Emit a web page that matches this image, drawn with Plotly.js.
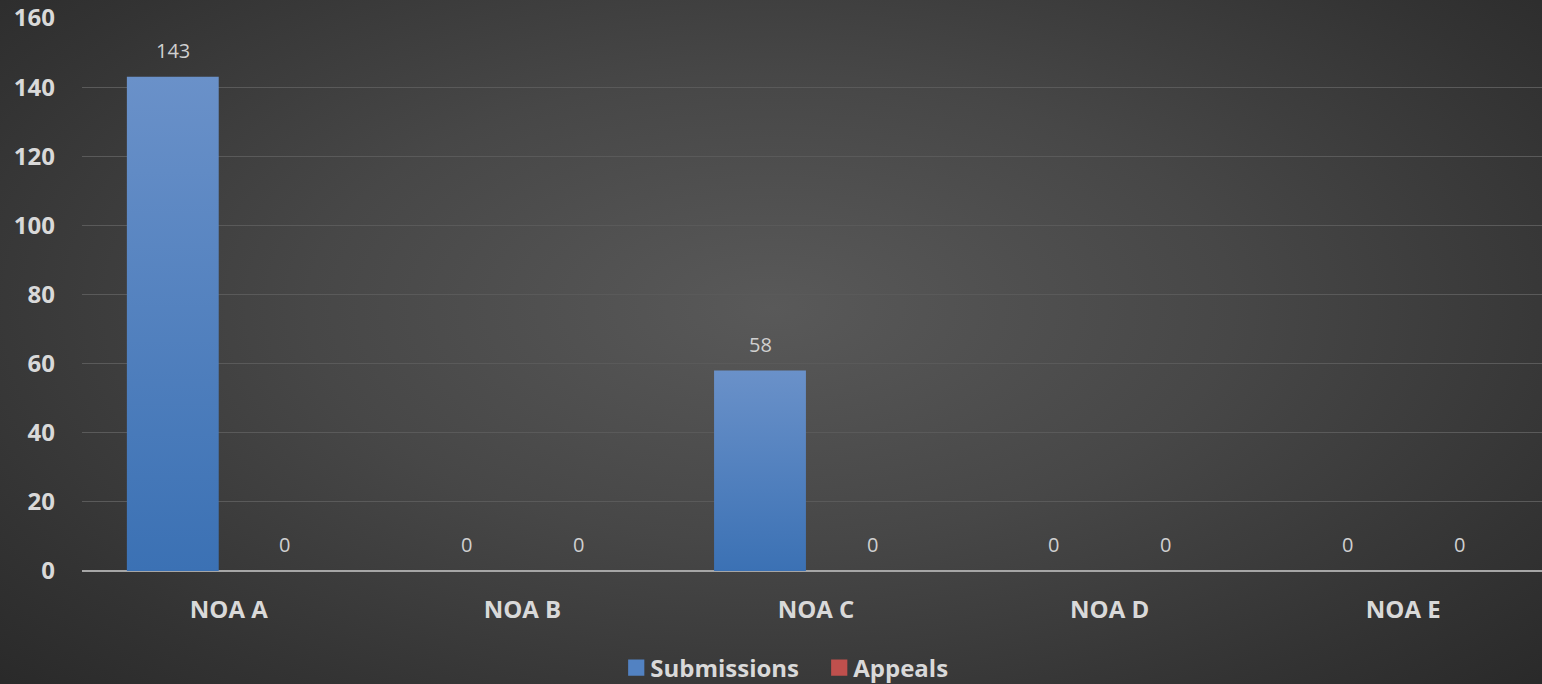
<!DOCTYPE html>
<html>
<head>
<meta charset="utf-8">
<script src="https://cdn.plot.ly/plotly-3.0.1.min.js"></script>
<style>
  html, body { margin: 0; padding: 0; }
  body {
    width: 1542px; height: 684px; overflow: hidden;
    background: radial-gradient(ellipse 75% 85% at 50% 45%, #595959 0%, #474747 40%, #333333 75%, #262626 100%);
  }
  #chart { width: 1550px; height: 684px; }
</style>
</head>
<body>
<div id="chart"></div>
<script>
// Categories and series
const categories = ['NOA A', 'NOA B', 'NOA C', 'NOA D', 'NOA E'];
const submissions = [143, 0, 58, 0, 0];
const appeals = [0, 0, 0, 0, 0];
const yTicks = [0, 20, 40, 60, 80, 100, 120, 140, 160];

const boldFont = { family: 'Open Sans, sans-serif', size: 24, color: '#d9d9d9', weight: 'bold' };

const traces = [
  {
    type: 'bar', name: 'Submissions', x: categories, y: submissions,
    marker: { color: '#5282c2', line: { width: 0 } },
    hoverinfo: 'skip'
  },
  {
    type: 'bar', name: 'Appeals', x: categories, y: appeals,
    marker: { color: '#c0504d', line: { width: 0 } },
    hoverinfo: 'skip'
  }
];

// Value labels above each bar, shifted onto its group slot
const annotations = [];
const series = [submissions, appeals];
const shifts = [-56, 56];
series.forEach((vals, s) => {
  vals.forEach((v, i) => {
    annotations.push({
      x: categories[i], y: v, xref: 'x', yref: 'y',
      text: String(v), showarrow: false,
      xshift: shifts[s], yshift: 11, yanchor: 'bottom',
      font: { family: 'Open Sans, sans-serif', size: 20, color: '#d0d0d0' }
    });
  });
});

const layout = {
  width: 1550, height: 684,
  paper_bgcolor: 'rgba(0,0,0,0)', plot_bgcolor: 'rgba(0,0,0,0)',
  margin: { l: 82, r: 0, t: 18, b: 113 },
  barmode: 'group', bargap: 0.237, bargroupgap: 0.18,
  showlegend: true,
  legend: {
    orientation: 'h', xref: 'container', yref: 'container',
    x: 0.3937, xanchor: 'left', y: 0.0234, yanchor: 'middle',
    font: boldFont, itemwidth: 30, entrywidth: 158, entrywidthmode: 'pixels',
    traceorder: 'normal'
  },
  xaxis: {
    type: 'category', tickfont: boldFont, ticks: '', ticklen: 0,
    showgrid: false, showline: false, zeroline: false, automargin: false,
    ticklabelstandoff: 22
  },
  yaxis: {
    range: [0, 160], tickvals: yTicks, ticktext: yTicks.map(String),
    tickfont: boldFont, gridcolor: '#5a5a5a', gridwidth: 1.2,
    zeroline: true, zerolinecolor: '#a6a6a6', zerolinewidth: 2.5,
    showline: false, ticks: '', ticklabelstandoff: 26, automargin: false
  },
  annotations: annotations
};

Plotly.newPlot('chart', traces, layout, { staticPlot: true, displayModeBar: false }).then(gd => {
  // vertical shading on the submission bars
  const svg = gd.querySelector('svg.main-svg');
  const ns = 'http://www.w3.org/2000/svg';
  let defs = svg.querySelector('defs');
  if (!defs) { defs = document.createElementNS(ns, 'defs'); svg.insertBefore(defs, svg.firstChild); }
  const grad = document.createElementNS(ns, 'linearGradient');
  grad.setAttribute('id', 'subGrad');
  grad.setAttribute('x1', '0'); grad.setAttribute('y1', '0');
  grad.setAttribute('x2', '0'); grad.setAttribute('y2', '1');
  [['0%', '#6a91c9'], ['100%', '#3b71b4']].forEach(([o, c]) => {
    const st = document.createElementNS(ns, 'stop');
    st.setAttribute('offset', o); st.setAttribute('stop-color', c);
    grad.appendChild(st);
  });
  defs.appendChild(grad);
  const firstTrace = gd.querySelectorAll('.barlayer .trace')[0];
  if (firstTrace) {
    firstTrace.querySelectorAll('path').forEach(p => { p.style.fill = 'url(#subGrad)'; });
  }
  // larger square swatches in the legend, set close to their labels
  gd.querySelectorAll('.legend .legendpoints path').forEach(p => {
    p.setAttribute('transform', 'translate(26,0) scale(1.35)');
  });
});
</script>
</body>
</html>
